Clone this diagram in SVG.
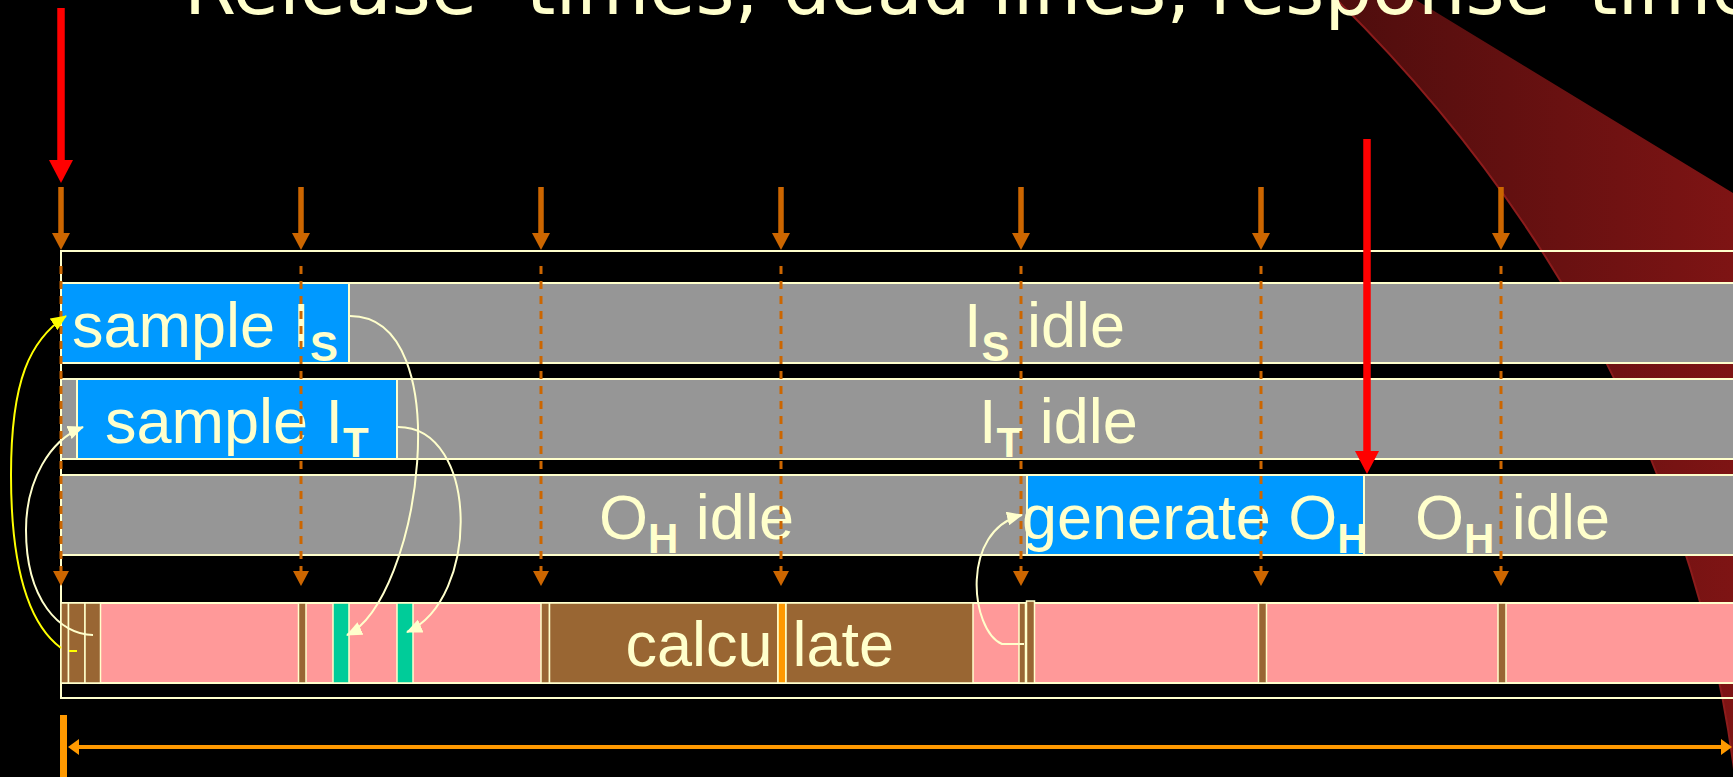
<svg xmlns="http://www.w3.org/2000/svg" width="1733" height="777" viewBox="0 0 1733 777">
  <defs>
    <linearGradient id="swooshFill" gradientUnits="userSpaceOnUse" x1="1337" y1="0" x2="1733" y2="0">
      <stop offset="0" stop-color="#4e0d0d"/>
      <stop offset="1" stop-color="#7e1414"/>
    </linearGradient>
    <!-- solid release tick head -->
    <marker id="tickHead" viewBox="0 0 17 18" refX="1" refY="9" markerWidth="17" markerHeight="18" markerUnits="userSpaceOnUse" orient="auto">
      <path d="M0,0 L17,9 L0,18 Z" fill="#CC6600"/>
    </marker>
    <!-- dashed release line head -->
    <marker id="dashHead" viewBox="0 0 15 16" refX="1" refY="8" markerWidth="15" markerHeight="16" markerUnits="userSpaceOnUse" orient="auto">
      <path d="M0,0 L15,8 L0,16 Z" fill="#CC6600"/>
    </marker>
    <!-- red event arrow head -->
    <marker id="redHead" viewBox="0 0 23 24" refX="1" refY="12" markerWidth="23" markerHeight="24" markerUnits="userSpaceOnUse" orient="auto">
      <path d="M0,0 L23,12 L0,24 Z" fill="#FF0000"/>
    </marker>
    <!-- dimension line head -->
    <marker id="dimHead" viewBox="0 0 11 16" refX="1" refY="8" markerWidth="11" markerHeight="16" markerUnits="userSpaceOnUse" orient="auto-start-reverse">
      <path d="M0,0 L11,8 L0,16 Z" fill="#FF9900"/>
    </marker>
    <!-- data flow heads -->
    <marker id="flowHead" viewBox="0 0 16 14" refX="15" refY="7" markerWidth="16" markerHeight="14" markerUnits="userSpaceOnUse" orient="auto">
      <path d="M0,0 L16,7 L0,14 Z" fill="#FFFFCC"/>
    </marker>
    <marker id="flowHeadYellow" viewBox="0 0 16 14" refX="15" refY="7" markerWidth="16" markerHeight="14" markerUnits="userSpaceOnUse" orient="auto">
      <path d="M0,0 L16,7 L0,14 Z" fill="#FFFF00"/>
    </marker>
    <style>
      .title{font-family:"DejaVu Sans",Verdana,sans-serif;font-size:75px;fill:#FFFFCC}
      .lbl{font-family:"Liberation Sans",Arial,sans-serif;font-size:63px;fill:#FFFFCC}
      .sub{font-size:42px;font-weight:bold}
      .row{stroke:#FFFFCC;stroke-width:2}
      .idle{fill:#969696}
      .busy{fill:#0099FF}
      .cpu{fill:#FF9999}
      .task{fill:#996633;stroke:#FFFFCC;stroke-width:1.5}
      .io{fill:#00CC99;stroke:#FFFFCC;stroke-width:1.5}
      .mark{fill:#FF9900;stroke:#FFFFCC;stroke-width:1.5}
      .tick{stroke:#CC6600;stroke-width:5.5;fill:none}
      .release{stroke:#CC6600;stroke-width:3;stroke-dasharray:8 7;fill:none}
      .event{stroke:#FF0000;stroke-width:7.5;fill:none}
      .flow{fill:none;stroke:#FFFFCC;stroke-width:2}
      .flowY{fill:none;stroke:#FFFF00;stroke-width:2}
    </style>
  </defs>

  <rect width="1733" height="777" fill="#000000"/>

  <!-- decorative swoosh -->
  <g id="swoosh">
    <path d="M1337,0 L1416,0 L1733,193 L1733,777 L1735,777 C1690,420 1500,160 1337,0 Z" fill="url(#swooshFill)"/>
    <path d="M1337,0 C1500,160 1690,420 1735,777" fill="none" stroke="#8c1c1c" stroke-width="2"/>
  </g>

  <!-- heading -->
  <g id="title">
    <text class="title" y="14"><tspan x="184">Release</tspan><tspan x="526">times,</tspan><tspan x="783">dead</tspan><tspan x="992">lines,</tspan><tspan x="1210">response</tspan><tspan x="1588">times</tspan></text>
  </g>

  <!-- frame around the timeline -->
  <rect id="frame" x="61" y="251" width="1684" height="447" fill="none" stroke="#FFFFCC" stroke-width="2"/>

  <!-- row: sensor input S -->
  <g id="row-is">
    <rect class="row idle" x="61" y="283" width="1684" height="80"/>
    <rect class="row busy" x="61" y="283" width="288" height="80"/>
    <text class="lbl" x="72" y="347">sample I<tspan class="sub" dy="14">S</tspan></text>
    <text class="lbl" x="964" y="347">I<tspan class="sub" dy="14">S</tspan><tspan dy="-14"> idle</tspan></text>
  </g>

  <!-- row: sensor input T -->
  <g id="row-it">
    <rect class="row idle" x="61" y="379" width="1684" height="80"/>
    <rect class="row busy" x="77" y="379" width="320" height="80"/>
    <text class="lbl" x="105" y="443">sample I<tspan class="sub" dy="14">T</tspan></text>
    <text class="lbl" x="979" y="443">I<tspan class="sub" dy="14">T</tspan><tspan dy="-14"> idle</tspan></text>
  </g>

  <!-- row: output H -->
  <g id="row-oh">
    <rect class="row idle" x="61" y="475" width="1684" height="80"/>
    <rect class="row busy" x="1027" y="475" width="337" height="80"/>
    <text class="lbl" x="599" y="539">O<tspan class="sub" dy="14">H</tspan><tspan dy="-14"> idle</tspan></text>
    <text class="lbl" x="1022" y="539">generate O<tspan class="sub" dy="14">H</tspan></text>
    <text class="lbl" x="1415" y="539">O<tspan class="sub" dy="14">H</tspan><tspan dy="-14"> idle</tspan></text>
  </g>

  <!-- row: processor -->
  <g id="row-cpu">
    <rect class="row cpu" x="61" y="603" width="1684" height="80"/>
    <rect class="task" x="61" y="603" width="7.5" height="80"/>
    <rect class="task" x="68.5" y="603" width="16.5" height="80"/>
    <rect class="task" x="85" y="603" width="15.5" height="80"/>
    <rect class="task" x="298.5" y="603" width="7.5" height="80"/>
    <rect class="io" x="333" y="603" width="16" height="80"/>
    <rect class="io" x="397" y="603" width="16" height="80"/>
    <rect class="task" x="541" y="603" width="8.5" height="80"/>
    <rect class="task" x="549.5" y="603" width="228.5" height="80"/>
    <rect class="mark" x="778" y="603" width="8" height="80"/>
    <rect class="task" x="786" y="603" width="187" height="80"/>
    <rect class="task" x="1019" y="603" width="6.5" height="80"/>
    <rect class="task" x="1026.5" y="601" width="8" height="82"/>
    <rect class="task" x="1258.5" y="603" width="8" height="80"/>
    <rect class="task" x="1498" y="603" width="8" height="80"/>
    <text class="lbl" x="625.5" y="666">calcu</text>
    <text class="lbl" x="792.5" y="666">late</text>
  </g>

  <!-- periodic release times -->
  <g id="releases">
    <line class="tick" x1="61" y1="187" x2="61" y2="234" marker-end="url(#tickHead)"/>
    <line class="tick" x1="301" y1="187" x2="301" y2="234" marker-end="url(#tickHead)"/>
    <line class="tick" x1="541" y1="187" x2="541" y2="234" marker-end="url(#tickHead)"/>
    <line class="tick" x1="781" y1="187" x2="781" y2="234" marker-end="url(#tickHead)"/>
    <line class="tick" x1="1021" y1="187" x2="1021" y2="234" marker-end="url(#tickHead)"/>
    <line class="tick" x1="1261" y1="187" x2="1261" y2="234" marker-end="url(#tickHead)"/>
    <line class="tick" x1="1501" y1="187" x2="1501" y2="234" marker-end="url(#tickHead)"/>

    <line class="release" x1="61" y1="266" x2="61" y2="572" marker-end="url(#dashHead)"/>
    <line class="release" x1="301" y1="266" x2="301" y2="572" marker-end="url(#dashHead)"/>
    <line class="release" x1="541" y1="266" x2="541" y2="572" marker-end="url(#dashHead)"/>
    <line class="release" x1="781" y1="266" x2="781" y2="572" marker-end="url(#dashHead)"/>
    <line class="release" x1="1021" y1="266" x2="1021" y2="572" marker-end="url(#dashHead)"/>
    <line class="release" x1="1261" y1="266" x2="1261" y2="572" marker-end="url(#dashHead)"/>
    <line class="release" x1="1501" y1="266" x2="1501" y2="572" marker-end="url(#dashHead)"/>
  </g>

  <!-- external events -->
  <g id="events">
    <line class="event" x1="61" y1="8" x2="61" y2="161" marker-end="url(#redHead)"/>
    <line class="event" x1="1367" y1="139" x2="1367" y2="452" marker-end="url(#redHead)"/>
  </g>

  <!-- data flow between processor and devices -->
  <g id="connectors">
    <path class="flowY" d="M77,651 L69,651"/>
    <path class="flowY" d="M61,648 C30,625 11,570 11,475 C11,380 30,340 66,316" marker-end="url(#flowHeadYellow)"/>
    <path class="flow" d="M93,635 C60,635 26,600 26,530 C26,480 50,440 83,427" marker-end="url(#flowHead)"/>
    <path class="flow" d="M350,316 C460,316 420,600 347,635" marker-end="url(#flowHead)"/>
    <path class="flow" d="M398,427 C480,427 480,600 407,632" marker-end="url(#flowHead)"/>
    <path class="flow" d="M1024,644 L1002,644 C970,630 960,530 1022,515" marker-end="url(#flowHead)"/>
  </g>

  <!-- response time span -->
  <g id="span">
    <rect x="60" y="715" width="7" height="62" fill="#FF9900"/>
    <line x1="78" y1="747" x2="1722" y2="747" stroke="#FF9900" stroke-width="4" marker-start="url(#dimHead)" marker-end="url(#dimHead)"/>
  </g>
</svg>
